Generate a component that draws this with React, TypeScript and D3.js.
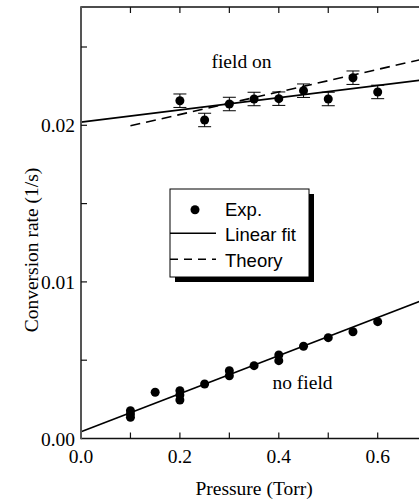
import React from 'react'
import * as d3 from 'd3'

// field on: measured rates with error bars
const onPressure = [0.2, 0.25, 0.3, 0.35, 0.4, 0.45, 0.5, 0.55, 0.6]
const onRate = [0.02157, 0.02034, 0.02136, 0.02168, 0.0217, 0.02221, 0.02168, 0.02304, 0.02213]
const onError = [0.00043, 0.00043, 0.00043, 0.00043, 0.00043, 0.00043, 0.00043, 0.00043, 0.00043]

// no field: measured rates
const offPressure = [0.1, 0.1, 0.1, 0.15, 0.2, 0.2, 0.2, 0.25, 0.3, 0.3, 0.35, 0.4, 0.4, 0.45, 0.5, 0.55, 0.6]
const offRate = [0.00178, 0.00156, 0.00135, 0.00295, 0.00305, 0.00278, 0.00246, 0.00348, 0.00433, 0.00401, 0.00465, 0.00533, 0.00497, 0.00589, 0.00644, 0.00682, 0.00746]

// fit lines and theory
const fitOnPressure = [0, 0.7]
const fitOnRate = [0.0202, 0.02293]
const fitOffPressure = [0, 0.7]
const fitOffRate = [0.00043, 0.00894]
const theoryPressure = [0.1, 0.7]
const theoryRate = [0.01997, 0.02429]

const xTicks = [0, 0.2, 0.4, 0.6]
const xMinor = [0.1, 0.3, 0.5]
const yTicks = [0, 0.01, 0.02]
const yMinor = [0.005, 0.015, 0.025]

const W = 419
const H = 503
const left = 81
const top = 7
const bottom = 438.5

const serif = '"Liberation Serif", "Times New Roman", serif'
const sans = '"Liberation Sans", Arial, sans-serif'
const fs = 19.5

const App = () => {
  const x = d3.scaleLinear().domain([0, 0.7]).range([left, left + 0.7 * 494.5])
  const y = d3.scaleLinear().domain([0, 0.025]).range([bottom, bottom - 0.025 * 15660])

  const line = (ps: number[], rs: number[]) =>
    d3.line<number>().x(p => x(p)).y((p, i) => y(rs[i]))(ps) || ''

  const right = x(0.7)
  const tick = 6

  return (
    <svg width={W} height={H} style={{position: 'absolute', left: 0, top: 0}}>
      <rect width={W} height={H} fill="#fff" />

      {/* lines */}
      <path d={line(fitOnPressure, fitOnRate)} stroke="#000" strokeWidth={1.6} fill="none" />
      <path d={line(fitOffPressure, fitOffRate)} stroke="#000" strokeWidth={1.6} fill="none" />
      <path d={line(theoryPressure, theoryRate)} stroke="#000" strokeWidth={1.6} fill="none" strokeDasharray="10,6" />

      {/* error bars */}
      {onPressure.map((p, i) => (
        <g key={'e' + i} stroke="#000" strokeWidth={1}>
          <line x1={x(p)} x2={x(p)} y1={y(onRate[i] - onError[i])} y2={y(onRate[i] + onError[i])} />
          <line x1={x(p) - 6.5} x2={x(p) + 6.5} y1={y(onRate[i] - onError[i])} y2={y(onRate[i] - onError[i])} />
          <line x1={x(p) - 6.5} x2={x(p) + 6.5} y1={y(onRate[i] + onError[i])} y2={y(onRate[i] + onError[i])} />
        </g>
      ))}
      {onPressure.map((p, i) => (
        <circle key={'on' + i} cx={x(p)} cy={y(onRate[i])} r={4.5} fill="#000" />
      ))}
      {offPressure.map((p, i) => (
        <circle key={'off' + i} cx={x(p)} cy={y(offRate[i])} r={4.5} fill="#000" />
      ))}

      {/* frame */}
      <line x1={left} x2={right} y1={top} y2={top} stroke="#111" strokeWidth={1.5} />
      <line x1={left} x2={right} y1={bottom} y2={bottom} stroke="#111" strokeWidth={1.3} />
      <line x1={left} x2={left} y1={top - 0.7} y2={bottom + 0.7} stroke="#555" strokeWidth={2} />

      {/* x ticks, bottom and top, inside */}
      {xTicks.concat(xMinor).filter(t => t > 0).map(t => (
        <g key={'xt' + t} stroke="#111" strokeWidth={1.2}>
          <line x1={x(t)} x2={x(t)} y1={bottom} y2={bottom - tick} />
          <line x1={x(t)} x2={x(t)} y1={top} y2={top + tick} />
        </g>
      ))}
      {/* y ticks, inside */}
      {yTicks.concat(yMinor).filter(t => t > 0).map(t => (
        <line key={'yt' + t} x1={left} x2={left + tick} y1={y(t)} y2={y(t)} stroke="#111" strokeWidth={1.2} />
      ))}

      {/* tick labels */}
      {xTicks.map(t => (
        <text key={'xl' + t} x={x(t)} y={463} textAnchor="middle" fontFamily={serif} fontSize={fs}>
          {d3.format('.1f')(t)}
        </text>
      ))}
      {yTicks.map(t => (
        <text key={'yl' + t} x={75} y={y(t) + 7} textAnchor="end" fontFamily={serif} fontSize={fs}>
          {d3.format('.2f')(t)}
        </text>
      ))}

      {/* axis titles */}
      <text x={x(0.35)} y={495} textAnchor="middle" fontFamily={serif} fontSize={fs}>Pressure (Torr)</text>
      <text transform="translate(38,250) rotate(-90)" textAnchor="middle" fontFamily={serif} fontSize={fs}>
        Conversion rate (1/s)
      </text>

      {/* annotations */}
      <text x={241.5} y={68} textAnchor="middle" fontFamily={serif} fontSize={fs}>field on</text>
      <text x={302.5} y={389} textAnchor="middle" fontFamily={serif} fontSize={fs}>no field</text>

      {/* legend */}
      <rect x={175} y={194} width={139} height={88} fill="#000" />
      <rect x={170} y={189} width={139} height={88} fill="#fff" stroke="#000" strokeWidth={1} />
      <circle cx={195} cy={209.7} r={4.5} fill="#000" />
      <text x={225} y={216} fontFamily={sans} fontSize={18.5}>Exp.</text>
      <line x1={170} x2={216} y1={233.3} y2={233.3} stroke="#000" strokeWidth={1.6} />
      <text x={225} y={240.5} fontFamily={sans} fontSize={18.5}>Linear fit</text>
      <line x1={170} x2={216} y1={259.3} y2={259.3} stroke="#000" strokeWidth={1.6} strokeDasharray="8,6" />
      <text x={225} y={266.5} fontFamily={sans} fontSize={18.5}>Theory</text>
    </svg>
  )
}

export default App
